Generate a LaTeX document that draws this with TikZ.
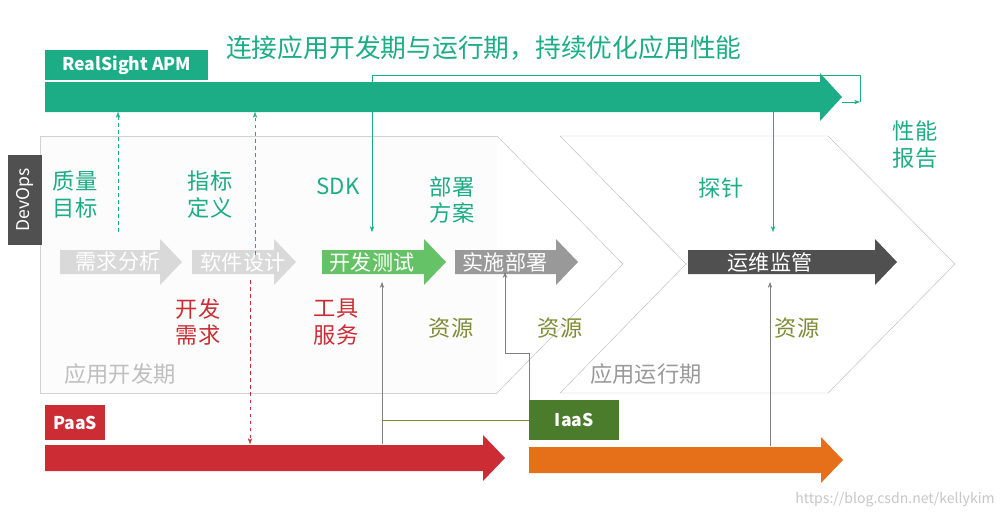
\documentclass[tikz,border=0pt]{standalone}
\usepackage{fontspec}
\setmainfont{Noto Sans CJK SC}
\usetikzlibrary{arrows.meta}
\definecolor{apmgreen}{RGB}{28,172,134}
\definecolor{paasred}{RGB}{204,45,52}
\definecolor{iaasgreen}{RGB}{74,124,44}
\definecolor{runorange}{RGB}{230,112,26}
\definecolor{resolive}{RGB}{128,140,56}
\definecolor{darkbox}{RGB}{80,80,80}
% fat arrow: start x, tip x, centre y, half body, half head, colour
\newcommand{\fatarrow}[6]{%
  \fill[#6] (#1,#3-#4) -- (#2-22,#3-#4) -- (#2-22,#3-#5) -- (#2,#3)
    -- (#2-22,#3+#5) -- (#2-22,#3+#4) -- (#1,#3+#4) -- cycle;}
\begin{document}
\begin{tikzpicture}
    [x=0.03cm,y=-0.03cm,
    tag/.style={fill=#1,text=white,font=\fontsize{15}{16}\selectfont\bfseries,
      inner sep=0pt,anchor=north west},
    lbl/.style={font=\fontsize{19}{23}\selectfont,align=center,text=#1},
    phase/.style={font=\fontsize{18}{20}\selectfont,text=white,inner sep=1pt},
    link/.style={-{Stealth[length=5pt]},thin},
    edge/.style={thin,gray}]

    \useasboundingbox (0,0) rectangle (1008,518);

    % panels
    \fill[gray!2] (40,136) rectangle (497,393);
    \draw[gray!35] (497,136) -- (40,136) -- (40,393) -- (497,393);
    \draw[gray!50] (497,136) -- (623,264) -- (497,393);
    \draw[gray!50] (560,136) -- (828,136) -- (955,264) -- (828,393) -- (560,393)
      -- (686,264) -- cycle;

    % bars
    \fatarrow{45}{842}{97}{15}{24}{apmgreen}
    \fatarrow{45}{505}{458}{13}{23}{paasred}
    \fatarrow{529}{843}{460}{13}{23}{runorange}
    \fatarrow{60}{182}{262}{12}{23}{gray!30}
    \fatarrow{192}{296}{262}{12}{23}{gray!30}
    \fatarrow{322}{446}{262}{12}{23}{green!60!black!60}
    \fatarrow{455}{578}{262}{12}{23}{gray!80}
    \fatarrow{688}{897}{262}{12}{23}{darkbox}

    \node (apm) [tag=apmgreen,minimum width=163*0.03cm,minimum height=30*0.03cm] at (45,50) {RealSight APM};
    \node (paas) [tag=paasred,minimum width=60*0.03cm,minimum height=35*0.03cm] at (45,405) {PaaS};
    \node (iaas) [tag=iaasgreen,minimum width=90*0.03cm,minimum height=40*0.03cm] at (529,400) {IaaS};
    \node (devops) [fill=darkbox,text=white,rotate=90,minimum width=90*0.03cm,
      minimum height=34*0.03cm,font=\fontsize{15}{16}\selectfont] at (25,200) {DevOps};
    \node (title) [lbl=apmgreen,anchor=west,font=\fontsize{22}{24}\selectfont] at (222,48) {连接应用开发期与运行期，持续优化应用性能};

    \node (req) [phase] at (118,262) {需求分析};
    \node (design) [phase] at (243,262) {软件设计};
    \node (dev) [phase] at (372,262) {开发测试};
    \node (deploy) [phase] at (505,262) {实施部署};
    \node (ops) [phase] at (770,262) {运维监管};

    \node (quality) [lbl=apmgreen] at (75,195) {质量\\目标};
    \node (metric) [lbl=apmgreen] at (210,195) {指标\\定义};
    \node (sdk) [lbl=apmgreen] at (338,186) {SDK};
    \node (plan) [lbl=apmgreen] at (452,200) {部署\\方案};
    \node (probe) [lbl=apmgreen] at (721,188) {探针};
    \node (report) [lbl=apmgreen] at (915,145) {性能\\报告};
    \node (need) [lbl=paasred] at (198,322) {开发\\需求};
    \node (tool) [lbl=paasred] at (336,322) {工具\\服务};
    \node (res1) [lbl=resolive] at (451,328) {资源};
    \node (res2) [lbl=resolive] at (560,328) {资源};
    \node (res3) [lbl=resolive] at (797,328) {资源};
    \node (devphase) [lbl=gray!50] at (120,374) {应用开发期};
    \node (runphase) [lbl=gray!80] at (646,374) {应用运行期};
    \node (mark) [text=gray!45,font=\fontsize{12}{13}\selectfont] at (895,500) {https://blog.csdn.net/kellykim};

    \coordinate (tip) at (842,102);
    \draw [link,apmgreen] (tip) -- (860,102);
    \draw [link,apmgreen] (860,102) -- (860,75) -- (372,75) -- (372,232);
    \draw [link,apmgreen] (773,112) -- (773,232);
    \draw [link,apmgreen,dashed] (118,232) -- (118,112);
    \draw [link,apmgreen,dashed] (255,255) -- (255,112);
    \draw [link,paasred,dashed] (250,280) -- (250,444);
    \draw [link,edge] (382,444) -- (382,282);
    \draw [edge,resolive] (382,420) -- (iaas.west |- 382,420);
    \draw [link,edge] (iaas.north west) -- (529,353) -- (505,353) -- (505,272);
    \draw [link,edge] (770,446) -- (770,282);

\end{tikzpicture}
\end{document}
